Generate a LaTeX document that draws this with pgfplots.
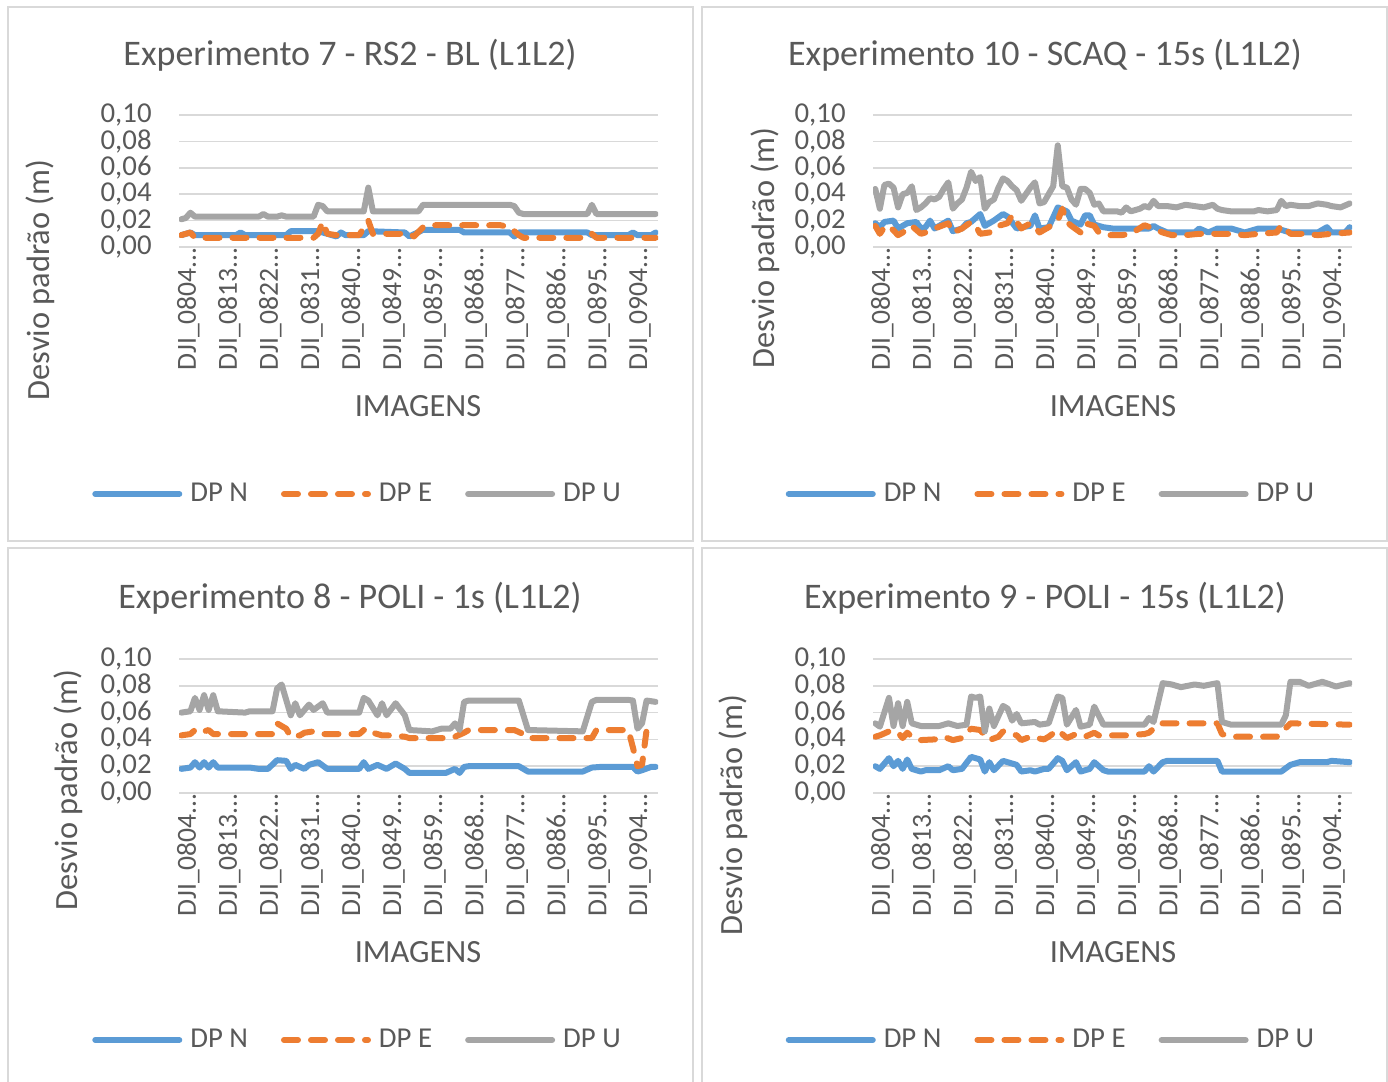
\documentclass[border=0pt]{standalone}
\usepackage{fontspec}
\setmainfont{Carlito}
\usepackage{pgfplots}
\pgfplotsset{compat=1.18}
\newcommand{\el}{...}
\newcommand{\gap}[1]{\rule{#1}{0pt}}
\definecolor{cN}{HTML}{5B9BD5}
\definecolor{cE}{HTML}{ED7D31}
\definecolor{cU}{HTML}{A5A5A5}
\definecolor{txt}{HTML}{595959}
\definecolor{grd}{HTML}{D9D9D9}
\pgfplotsset{
  sN/.style={cN, line width=3pt, line cap=round, line join=round, mark=none},
  sE/.style={cE, line width=3pt, line cap=round, line join=round, dash pattern=on 7pt off 6.5pt, mark=none},
  sU/.style={cU, line width=3pt, line cap=round, line join=round, mark=none},
  panel/.style={
    scale only axis, width=239.5pt, height=66pt, anchor=south west,
    xmin=-0.5, xmax=104.5, ymin=0, ymax=0.1,
    axis line style={draw=none}, major tick length=0pt,
    ytick={0,0.02,0.04,0.06,0.08,0.1},
    yticklabels={{0,00},{0,02},{0,04},{0,06},{0,08},{0,10}},
    ymajorgrids, grid style={draw=grd, line width=0.75pt},
    xtick={0,9,18,27,36,45,54,63,72,81,90,99},
    xticklabels={DJI\_0804\el,DJI\_0813\el,DJI\_0822\el,DJI\_0831\el,DJI\_0840\el,DJI\_0849\el,DJI\_0859\el,DJI\_0868\el,DJI\_0877\el,DJI\_0886\el,DJI\_0895\el,DJI\_0904\el},
    xticklabel style={rotate=90, anchor=east, inner sep=0pt, yshift=-3.5pt, font=\fontsize{13.8}{15}\selectfont, text=txt},
    yticklabel style={anchor=east, inner sep=0pt, xshift=-13.5pt, font=\fontsize{14.4}{16}\selectfont, text=txt},
    /pgf/number format/assume math mode=true,
    legend columns=3,
    legend image code/.code={\draw[##1] (0pt,0pt) -- (42pt,0pt);},
    legend style={draw=none, fill=none, anchor=center, inner sep=0pt, column sep=0pt,
      nodes={inner sep=0pt, text=txt, font=\fontsize{14.4}{16}\selectfont}},
  }
}
\tikzset{ttl/.style={text=txt, font=\fontsize{18}{21}\selectfont},
  atl/.style={text=txt, font=\fontsize{16.2}{19}\selectfont}}
\newcommand{\leg}{\legend{\gap{4pt}DP N\gap{16.5pt},\gap{4pt}DP E\gap{16.5pt},\gap{4pt}DP U}}
\begin{document}
\begin{tikzpicture}
\useasboundingbox (0,0) rectangle (694pt,-541pt);
\draw[grd, line width=0.75pt] (4pt,-3.5pt) rectangle (346.5pt,-270.5pt);
\draw[grd, line width=0.75pt] (351pt,-3.5pt) rectangle (693.5pt,-270.5pt);
\draw[grd, line width=0.75pt] (4pt,-274pt) rectangle (346.5pt,-541.5pt);
\draw[grd, line width=0.75pt] (351pt,-274pt) rectangle (693.5pt,-541.5pt);

% Experimento 7
\begin{axis}[panel, at={(89.5pt,-123.5pt)}, legend style={at={(0.3706,-1.871)}}]
\addplot[sN] coordinates {(0,0.009)(2,0.011)(3,0.009)(12,0.009)(13,0.011)(14,0.009)(23,0.009)(24,0.012)(30,0.012)(31,0.011)(34,0.008)(35,0.011)(36,0.009)(40,0.009)(41,0.012)(49,0.011)(50,0.008)(53,0.013)(61,0.013)(62,0.011)(72,0.011)(73,0.008)(74,0.011)(89,0.011)(90,0.009)(98,0.009)(99,0.011)(100,0.009)(103,0.009)(104,0.011)};
\addplot[sE] coordinates {(0,0.009)(2,0.011)(3,0.007)(29,0.007)(30,0.010)(31,0.019)(32,0.010)(34,0.009)(39,0.009)(41,0.020)(42,0.010)(50,0.010)(51,0.008)(53,0.015)(54,0.0165)(70,0.0165)(72,0.015)(74,0.009)(75,0.007)(89,0.007)(90,0.010)(91,0.007)(104,0.007)};
\addplot[sU] coordinates {(0,0.021)(1,0.022)(2,0.026)(3,0.023)(17,0.023)(18,0.025)(19,0.023)(21,0.023)(22,0.024)(23,0.023)(29,0.023)(30,0.032)(31,0.031)(32,0.027)(40,0.027)(41,0.045)(42,0.027)(52,0.027)(53,0.032)(72,0.032)(73,0.031)(74,0.026)(75,0.025)(89,0.025)(90,0.032)(91,0.025)(104,0.025)};
\leg
\end{axis}
\node[ttl] at (175pt,-27.5pt) {Experimento 7 - RS2 - BL (L1L2)};
\node[atl, rotate=90] at (20pt,-140pt) {Desvio padrão (m)};
\node[atl] at (209pt,-203pt) {IMAGENS};

% Experimento 10
\begin{axis}[panel, at={(436.5pt,-123.5pt)}, legend style={at={(0.3695,-1.871)}}]
\addplot[sN] coordinates {(0,0.018)(1,0.015)(2,0.019)(4,0.020)(5,0.014)(7,0.018)(9,0.019)(10,0.014)(11,0.015)(12,0.020)(13,0.014)(16,0.020)(17,0.012)(19,0.014)(20,0.018)(21,0.019)(23,0.025)(24,0.016)(26,0.020)(28,0.025)(29,0.023)(31,0.014)(32,0.015)(34,0.016)(35,0.024)(36,0.014)(38,0.015)(40,0.030)(42,0.027)(43,0.020)(45,0.017)(46,0.024)(47,0.024)(48,0.017)(50,0.015)(52,0.014)(60,0.014)(61,0.016)(62,0.014)(64,0.011)(70,0.011)(71,0.014)(73,0.011)(75,0.014)(78,0.014)(81,0.011)(84,0.014)(88,0.014)(91,0.011)(97,0.011)(99,0.015)(100,0.011)(103,0.011)(104,0.015)};
\addplot[sE] coordinates {(0,0.016)(1,0.010)(2,0.015)(3,0.016)(5,0.009)(6,0.011)(8,0.016)(10,0.010)(11,0.011)(13,0.014)(16,0.018)(17,0.011)(19,0.014)(21,0.019)(22,0.016)(23,0.010)(25,0.011)(27,0.016)(29,0.018)(30,0.024)(32,0.014)(34,0.018)(35,0.015)(36,0.011)(38,0.015)(40,0.020)(41,0.029)(42,0.019)(43,0.016)(45,0.011)(46,0.018)(48,0.016)(49,0.011)(51,0.009)(54,0.009)(56,0.010)(59,0.0165)(61,0.014)(63,0.011)(65,0.009)(68,0.009)(71,0.010)(74,0.010)(77,0.010)(81,0.009)(84,0.010)(88,0.011)(89,0.0165)(91,0.010)(94,0.010)(97,0.009)(100,0.010)(104,0.011)};
\addplot[sU] coordinates {(0,0.044)(1,0.029)(2,0.047)(3,0.048)(4,0.045)(5,0.030)(6,0.040)(7,0.041)(8,0.046)(9,0.028)(10,0.030)(11,0.033)(12,0.037)(13,0.036)(14,0.038)(15,0.044)(16,0.049)(17,0.029)(18,0.033)(19,0.036)(20,0.045)(21,0.057)(22,0.050)(23,0.053)(24,0.029)(25,0.034)(26,0.036)(27,0.045)(28,0.052)(29,0.050)(30,0.046)(31,0.043)(32,0.035)(33,0.040)(34,0.045)(35,0.049)(36,0.033)(37,0.034)(38,0.040)(39,0.046)(40,0.077)(41,0.046)(42,0.045)(43,0.036)(44,0.032)(45,0.044)(46,0.044)(47,0.041)(48,0.032)(49,0.033)(50,0.027)(53,0.027)(54,0.026)(55,0.030)(56,0.027)(57,0.028)(58,0.029)(59,0.031)(60,0.030)(61,0.035)(62,0.031)(64,0.031)(66,0.030)(68,0.032)(70,0.031)(72,0.030)(74,0.032)(75,0.029)(76,0.028)(78,0.027)(81,0.027)(83,0.027)(84,0.028)(86,0.027)(88,0.028)(89,0.035)(90,0.031)(91,0.032)(93,0.031)(95,0.031)(97,0.033)(99,0.032)(100,0.031)(102,0.030)(104,0.033)};
\leg
\end{axis}
\node[ttl] at (522.5pt,-27.5pt) {Experimento 10 - SCAQ - 15s (L1L2)};
\node[atl, rotate=90] at (382.5pt,-124pt) {Desvio padrão (m)};
\node[atl] at (556.5pt,-203pt) {IMAGENS};

% Experimento 8
\begin{axis}[panel, at={(89.5pt,-396.5pt)}, height=67pt, legend style={at={(0.3706,-1.843)}}]
\addplot[sN] coordinates {(0,0.018)(2,0.019)(3,0.023)(4,0.019)(5,0.023)(6,0.019)(7,0.023)(8,0.019)(15,0.019)(17,0.018)(19,0.018)(21,0.0245)(23,0.024)(24,0.018)(25,0.021)(27,0.018)(28,0.021)(30,0.023)(32,0.018)(39,0.018)(40,0.023)(41,0.018)(43,0.021)(45,0.018)(47,0.022)(49,0.018)(50,0.015)(58,0.015)(60,0.018)(61,0.015)(62,0.0195)(63,0.020)(74,0.020)(76,0.016)(88,0.016)(90,0.019)(92,0.0195)(99,0.0195)(100,0.016)(101,0.017)(103,0.0195)(104,0.0195)};
\addplot[sE] coordinates {(0,0.043)(2,0.044)(3,0.047)(4,0.045)(6,0.047)(7,0.044)(10,0.044)(20,0.044)(21,0.052)(23,0.048)(24,0.042)(26,0.043)(27,0.045)(29,0.046)(31,0.044)(39,0.044)(40,0.047)(41,0.048)(42,0.045)(44,0.043)(46,0.043)(49,0.042)(50,0.041)(59,0.041)(60,0.042)(62,0.045)(63,0.047)(73,0.047)(75,0.044)(76,0.041)(90,0.041)(91,0.047)(98,0.047)(99,0.034)(100,0.020)(101,0.021)(102,0.047)};
\addplot[sU] coordinates {(0,0.060)(2,0.061)(3,0.071)(4,0.062)(5,0.073)(6,0.062)(7,0.073)(8,0.061)(14,0.060)(15,0.061)(20,0.061)(21,0.078)(22,0.081)(24,0.058)(25,0.067)(26,0.058)(28,0.066)(29,0.062)(31,0.067)(32,0.060)(39,0.060)(40,0.071)(41,0.069)(43,0.058)(44,0.067)(45,0.058)(47,0.067)(49,0.058)(50,0.047)(55,0.046)(57,0.048)(59,0.048)(60,0.052)(61,0.047)(62,0.068)(63,0.069)(74,0.069)(76,0.047)(88,0.046)(90,0.068)(91,0.0695)(98,0.0695)(99,0.069)(100,0.048)(101,0.052)(102,0.069)(104,0.068)};
\leg
\end{axis}
\node[ttl] at (175pt,-299pt) {Experimento 8 - POLI - 1s (L1L2)};
\node[atl, rotate=90] at (34pt,-395pt) {Desvio padrão (m)};
\node[atl] at (209pt,-476pt) {IMAGENS};

% Experimento 9
\begin{axis}[panel, at={(436.5pt,-396.5pt)}, height=67pt, legend style={at={(0.3695,-1.843)}}]
\addplot[sN] coordinates {(0,0.020)(1,0.018)(3,0.026)(4,0.020)(5,0.024)(6,0.018)(7,0.025)(8,0.018)(10,0.016)(11,0.017)(14,0.017)(16,0.020)(17,0.017)(19,0.018)(21,0.027)(22,0.026)(23,0.025)(24,0.016)(25,0.023)(26,0.017)(28,0.024)(29,0.023)(31,0.021)(32,0.016)(34,0.017)(35,0.016)(37,0.018)(38,0.018)(40,0.026)(41,0.024)(42,0.017)(44,0.023)(45,0.016)(47,0.018)(48,0.023)(50,0.017)(51,0.016)(59,0.016)(60,0.020)(61,0.016)(63,0.023)(64,0.024)(75,0.024)(76,0.016)(89,0.016)(91,0.021)(93,0.023)(99,0.023)(100,0.024)(104,0.023)};
\addplot[sE] coordinates {(0,0.042)(1,0.043)(3,0.046)(4,0.045)(5,0.045)(6,0.041)(7,0.045)(8,0.042)(10,0.0395)(13,0.040)(15,0.042)(17,0.0395)(19,0.041)(21,0.048)(23,0.047)(24,0.043)(25,0.0395)(27,0.042)(28,0.046)(31,0.043)(32,0.0395)(34,0.042)(37,0.040)(38,0.042)(40,0.047)(42,0.041)(44,0.044)(46,0.042)(48,0.045)(49,0.043)(51,0.043)(55,0.043)(59,0.044)(60,0.045)(62,0.051)(63,0.052)(75,0.052)(76,0.044)(78,0.042)(88,0.042)(89,0.045)(91,0.052)(104,0.051)};
\addplot[sU] coordinates {(0,0.052)(1,0.0495)(3,0.071)(4,0.050)(5,0.067)(6,0.050)(7,0.068)(8,0.052)(10,0.050)(14,0.050)(16,0.052)(18,0.050)(20,0.051)(21,0.072)(22,0.071)(23,0.072)(24,0.046)(25,0.063)(26,0.050)(28,0.065)(29,0.063)(30,0.054)(31,0.059)(32,0.052)(35,0.053)(36,0.051)(38,0.052)(40,0.072)(41,0.071)(42,0.051)(44,0.062)(45,0.0495)(47,0.051)(48,0.0645)(50,0.051)(59,0.051)(60,0.056)(61,0.053)(63,0.082)(65,0.081)(67,0.079)(70,0.081)(72,0.080)(75,0.082)(76,0.053)(78,0.051)(89,0.051)(90,0.058)(91,0.083)(93,0.083)(95,0.080)(98,0.083)(101,0.0795)(104,0.082)};
\leg
\end{axis}
\node[ttl] at (522.5pt,-299pt) {Experimento 9 - POLI - 15s (L1L2)};
\node[atl, rotate=90] at (366.5pt,-407.5pt) {Desvio padrão (m)};
\node[atl] at (556.5pt,-476pt) {IMAGENS};
\end{tikzpicture}
\end{document}
